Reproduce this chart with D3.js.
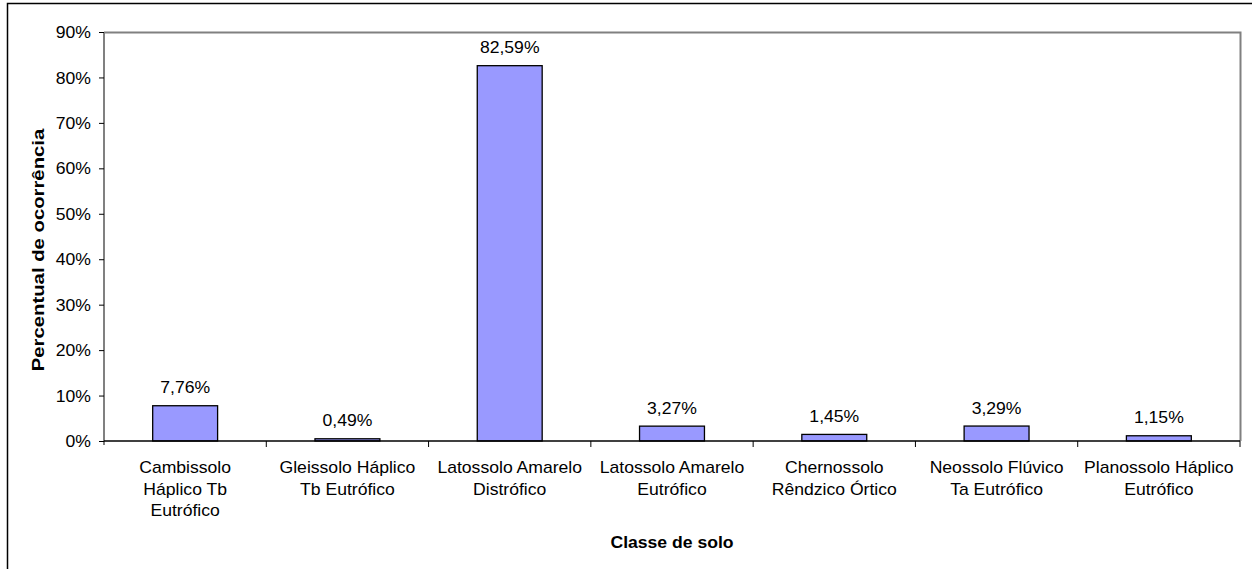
<!DOCTYPE html>
<html>
<head>
<meta charset="utf-8">
<script src="https://cdn.jsdelivr.net/npm/d3@7"></script>
<style>
  html, body { margin: 0; padding: 0; background: #fff; }
  svg { display: block; }
  text { font-family: "Liberation Sans", Arial, sans-serif; fill: #000; }
</style>
</head>
<body>
<svg id="chart" width="1252" height="569"></svg>
<script>
// Soil classes and their share of occurrence (%)
const categories = [
  ["Cambissolo", "Háplico Tb", "Eutrófico"],
  ["Gleissolo Háplico", "Tb Eutrófico"],
  ["Latossolo Amarelo", "Distrófico"],
  ["Latossolo Amarelo", "Eutrófico"],
  ["Chernossolo", "Rêndzico Órtico"],
  ["Neossolo Flúvico", "Ta Eutrófico"],
  ["Planossolo Háplico", "Eutrófico"]
];
const values = [7.76, 0.49, 82.59, 3.27, 1.45, 3.29, 1.15];
const yTicks = [0, 10, 20, 30, 40, 50, 60, 70, 80, 90];
const xTitle = "Classe de solo";
const yTitle = "Percentual de ocorrência";

const svg = d3.select("#chart");
const plot = { left: 104, right: 1240, top: 32, bottom: 441 };
const FS = 16;        // base font size
const WIDE = 1.1;     // horizontal stretch of the lettering

// Outer chart frame
svg.append("rect")
  .attr("x", 7.5).attr("y", 3.5)
  .attr("width", 1300).attr("height", 700)
  .attr("fill", "none").attr("stroke", "#000").attr("stroke-width", 1.5);

const x = d3.scaleBand()
  .domain(d3.range(categories.length))
  .range([plot.left, plot.right])
  .paddingInner(0.6).paddingOuter(0.3);

const y = d3.scaleLinear().domain([0, 90]).range([plot.bottom, plot.top]);

// Plot area border (top and right edges)
svg.append("path")
  .attr("d", `M${plot.left},${plot.top + 0.5}H${plot.right + 0.5}V${plot.bottom}`)
  .attr("fill", "none").attr("stroke", "#808080").attr("stroke-width", 2);

// Bars
svg.append("g").selectAll("rect")
  .data(values)
  .join("rect")
  .attr("x", (d, i) => x(i))
  .attr("y", d => y(d))
  .attr("width", x.bandwidth())
  .attr("height", d => y(0) - y(d))
  .attr("fill", "#9999ff")
  .attr("stroke", "#000").attr("stroke-width", 1.3);

// Value labels
const fmt = v => v.toFixed(2).replace(".", ",") + "%";
svg.append("g").selectAll("text")
  .data(values)
  .join("text")
  .attr("transform", (d, i) => `translate(${x(i) + x.bandwidth() / 2},${y(d) - 12.5}) scale(${WIDE},1)`)
  .attr("text-anchor", "middle")
  .style("font-size", FS + "px")
  .text(d => fmt(d));

// Y axis
const yAxis = d3.axisLeft(y)
  .tickValues(yTicks)
  .tickSize(5)
  .tickFormat(d => d + "%");
const gy = svg.append("g").attr("transform", `translate(${plot.left},0)`).call(yAxis);
gy.select(".domain").attr("stroke", "#808080").attr("stroke-width", 2).attr("d", `M0,${plot.top}V${plot.bottom + 4}`);
gy.selectAll(".tick line").attr("stroke", "#000");
gy.selectAll(".tick text")
  .attr("x", 0)
  .attr("dy", "0.35em")
  .attr("transform", `translate(-13,0) scale(${WIDE},1)`)
  .style("font-size", FS + "px")
  .style("font-family", "'Liberation Sans', Arial, sans-serif");

// X axis with tick marks between categories
const boundaries = d3.range(categories.length + 1).map(i => plot.left + i * (plot.right - plot.left) / categories.length);
const gx = svg.append("g");
gx.append("line")
  .attr("x1", plot.left).attr("x2", plot.right)
  .attr("y1", plot.bottom).attr("y2", plot.bottom)
  .attr("stroke", "#000").attr("stroke-width", 1.5);
gx.selectAll("line.tk")
  .data(boundaries.slice(1))
  .join("line").attr("class", "tk")
  .attr("x1", d => d).attr("x2", d => d)
  .attr("y1", plot.bottom).attr("y2", plot.bottom + 6)
  .attr("stroke", "#000");

// Category labels
const catText = gx.selectAll("text.cat")
  .data(categories)
  .join("text").attr("class", "cat")
  .attr("transform", (d, i) => `translate(${x(i) + x.bandwidth() / 2},473) scale(${WIDE},1)`)
  .attr("text-anchor", "middle")
  .style("font-size", FS + "px");
catText.selectAll("tspan")
  .data(d => d)
  .join("tspan")
  .attr("x", 0)
  .attr("dy", (d, i) => i === 0 ? 0 : 21.7)
  .text(d => d);

// Axis titles
svg.append("text")
  .attr("transform", `translate(${(plot.left + plot.right) / 2},548) scale(1.1,1)`)
  .attr("text-anchor", "middle")
  .style("font-size", FS + "px").style("font-weight", "bold")
  .text(xTitle);

svg.append("text")
  .attr("transform", `translate(44,250) rotate(-90) scale(1.27,1)`)
  .attr("text-anchor", "middle")
  .style("font-size", FS + "px").style("font-weight", "bold")
  .text(yTitle);
</script>
</body>
</html>
